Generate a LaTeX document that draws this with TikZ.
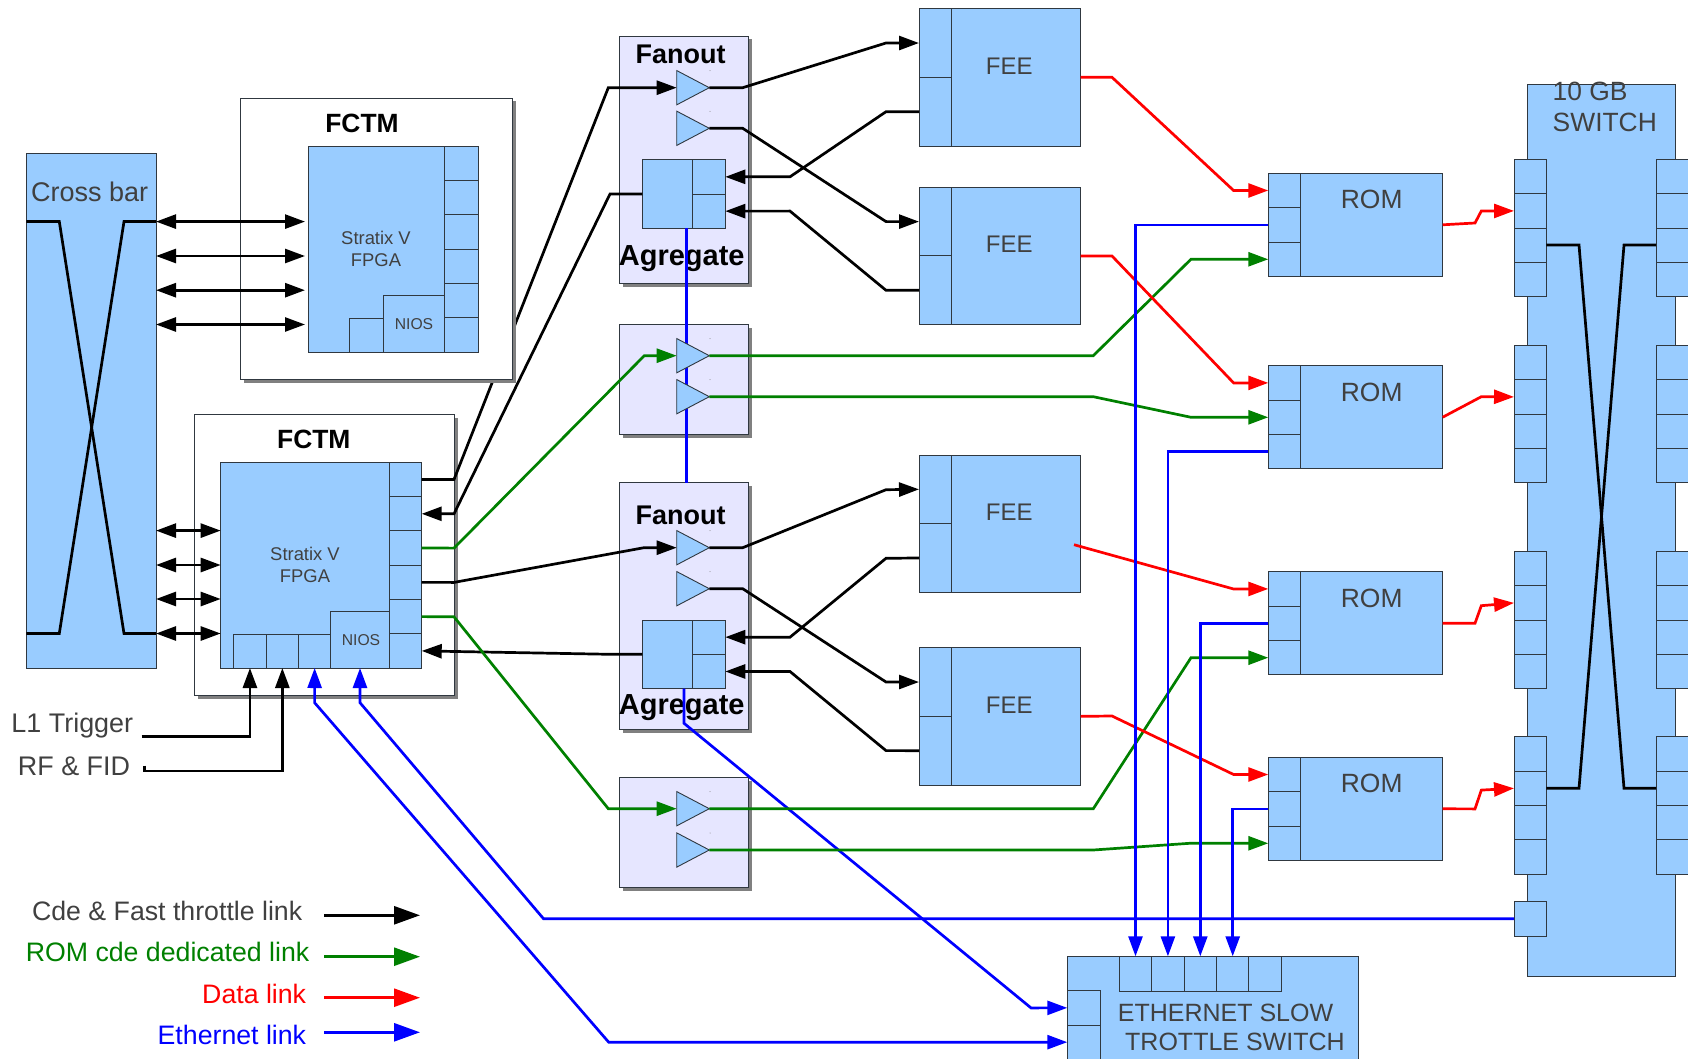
\documentclass[tikz,border=0pt]{standalone}
\usepackage{fontspec}
\setmainfont{Liberation Sans}
\usetikzlibrary{arrows.meta,shapes.geometric,shadows}

\definecolor{boxblue}{HTML}{99CCFF}
\definecolor{boxedge}{HTML}{303840}
\definecolor{lavender}{HTML}{E6E6FF}
\definecolor{darktext}{HTML}{404040}
\definecolor{linkgreen}{HTML}{008000}

\begin{document}
\begin{tikzpicture}[x=1pt, y=-1pt, >={Triangle[length=20pt,width=14pt]},
  bluebox/.style={draw=boxedge, fill=boxblue, line width=0.9pt, inner sep=0pt, outer sep=0pt, anchor=north west},
  framebox/.style={draw=boxedge, fill=white, line width=0.9pt, inner sep=0pt, outer sep=0pt, anchor=north west,
    drop shadow={shadow xshift=3.5pt, shadow yshift=-3.5pt, fill=gray, opacity=1}},
  fanbox/.style={framebox, fill=lavender},
  buffer/.style={draw=boxedge, fill=boxblue, line width=0.9pt, isosceles triangle, isosceles triangle stretches,
    minimum width=34.3pt, minimum height=32.6pt, inner sep=0pt, outer sep=0pt, anchor=apex},
  boxtext/.style={text=darktext, inner sep=0pt, font=\fontsize{24}{28}\selectfont},
  romtext/.style={boxtext, font=\fontsize{26.4}{31}\selectfont},
  smalltext/.style={boxtext, font=\fontsize{18.4}{22}\selectfont, align=center},
  niostext/.style={boxtext, font=\fontsize{15.7}{18}\selectfont},
  titletext/.style={text=black, inner sep=0pt, font=\fontsize{27}{32}\selectfont\bfseries},
  sidetext/.style={boxtext, font=\fontsize{26.7}{32}\selectfont},
  blackline/.style={black, line width=2.7pt},
  greenline/.style={linkgreen, line width=2.7pt},
  redline/.style={red, line width=2.7pt},
  blueline/.style={blue, line width=2.7pt},
  legendtip/.style={-{Triangle[length=26pt,width=18pt]}},
]
  \useasboundingbox (0,0) rectangle (1688,1059);

  % cross bar
  \node[bluebox, minimum width=130pt, minimum height=515pt] (crossbar) at (26.3,153) {};
  \node[boxtext, font=\fontsize{27}{32}\selectfont] (crossbartext) at (89.6,192) {Cross bar};
  \draw[blackline] (26.3,221.6) -- (59.3,221.6) -- (124,633.5) -- (156,633.5);
  \draw[blackline] (156,221.6) -- (124,221.6) -- (59.3,633.5) -- (26.3,633.5);

  % lower FCTM
  \node[framebox, minimum width=259.2pt, minimum height=281.5pt] (frameB) at (194.8,414) {};
  \node[titletext, font=\fontsize{26.4}{32}\selectfont\bfseries] (frameBtext) at (313.8,439) {FCTM};
  \node[bluebox, minimum width=168.6pt, minimum height=205.6pt] (fpgaB) at (220.7,462.4) {};
  \node[smalltext] (fpgaBtext) at (305,565) {Stratix V\\FPGA};
  \foreach \i in {1,...,6} {
    \pgfmathsetmacro{\py}{462.4+(\i-1)*34.27}
    \node[bluebox, minimum width=32.4pt, minimum height=34.27pt] (fpgaBp\i) at (389.3,\py) {};
  }
  \foreach \i/\x in {1/233.8, 2/266.2, 3/298.5} {
    \node[bluebox, minimum width=32.3pt, minimum height=34pt] (fpgaBb\i) at (\x,634) {};
  }
  \node[bluebox, minimum width=58.6pt, minimum height=57pt] (niosB) at (330.7,611) {};
  \node[niostext] (niosBtext) at (361,640) {NIOS};

  % fanout and aggregate boxes
  \node[fanbox, minimum width=129.4pt, minimum height=247.3pt] (fanA) at (619,36) {};
  \node[fanbox, minimum width=129.4pt, minimum height=110pt] (fanB) at (619,324.3) {};
  \node[fanbox, minimum width=129.4pt, minimum height=246.6pt] (fanC) at (619,482.7) {};
  \node[fanbox, minimum width=129.4pt, minimum height=110pt] (fanD) at (619,777.7) {};
  \node[titletext] (fanAtext) at (680.7,54.3) {Fanout};
  \node[titletext] (fanCtext) at (680.7,515) {Fanout};
  \node[titletext, font=\fontsize{29}{32}\selectfont\bfseries] (sumAtext) at (681.7,259) {Agregate};
  \node[titletext, font=\fontsize{29}{32}\selectfont\bfseries] (sumCtext) at (681.7,707.3) {Agregate};

  \foreach \n/\y in {A/159.7, C/620} {
    \node[bluebox, minimum width=50pt, minimum height=68.6pt] (agg\n) at (642.3,\y) {};
    \pgfmathsetmacro{\py}{\y+34.3}
    \node[bluebox, minimum width=33pt, minimum height=34.3pt] (agg\n p1) at (692.3,\y) {};
    \node[bluebox, minimum width=33pt, minimum height=34.3pt] (agg\n p2) at (692.3,\py) {};
  }

  % ethernet bus goes under the buffers
  \coordinate (busA) at (686.3,228.3);
  \coordinate (busB) at (686.3,482.7);
  \draw[blueline] (busA) -- (busB);

  \foreach \n/\y in {A/87.7, B/128.3, C/355.7, D/396.7, E/547.7, F/588.7, G/808.7, H/850} {
    \node[buffer] (tri\n) at (709.3,\y) {};
    \fill[gray] (710,\y-17) circle (0.5pt);
  }

  % this link passes behind the upper FCTM
  \draw[blackline,->] (fpgaBp1.east) -- (454,479.5) -- (608.3,87.7) -- (triA.lower side);

  % upper FCTM
  \node[framebox, minimum width=272.4pt, minimum height=281.6pt] (frameA) at (240,98) {};
  \node[titletext, font=\fontsize{26.4}{32}\selectfont\bfseries] (frameAtext) at (362,123) {FCTM};
  \node[bluebox, minimum width=136pt, minimum height=206pt] (fpgaA) at (308,146) {};
  \node[smalltext] (fpgaAtext) at (376,249) {Stratix V\\FPGA};
  \foreach \i in {1,...,6} {
    \pgfmathsetmacro{\py}{146+(\i-1)*34.33}
    \node[bluebox, minimum width=34pt, minimum height=34.33pt] (fpgaAp\i) at (444,\py) {};
  }
  \node[bluebox, minimum width=61pt, minimum height=56.5pt] (niosA) at (383,295.5) {};
  \node[bluebox, minimum width=34pt, minimum height=34pt] (fpgaAb) at (349,318) {};
  \node[niostext] (niosAtext) at (414,323.7) {NIOS};

  % FEE boards
  \foreach \f/\y/\ty in {1/8.7/66, 2/187.3/244, 3/455/512, 4/647.7/705} {
    \node[bluebox, minimum width=161.7pt, minimum height=137.3pt] (fee\f) at (919,\y) {};
    \pgfmathsetmacro{\py}{\y+68.65}
    \node[bluebox, minimum width=32.3pt, minimum height=68.65pt] (fee\f p1) at (919,\y) {};
    \node[bluebox, minimum width=32.3pt, minimum height=68.65pt] (fee\f p2) at (919,\py) {};
    \node[boxtext] (fee\f text) at (1009.3,\ty) {FEE};
  }

  % ROM boards
  \foreach \r/\y in {1/173.3, 2/365.7, 3/571.7, 4/757.3} {
    \node[bluebox, minimum width=174.4pt, minimum height=103pt] (rom\r) at (1268.3,\y) {};
    \foreach \p in {1,2,3} {
      \pgfmathsetmacro{\py}{\y+(\p-1)*34.4}
      \node[bluebox, minimum width=32.4pt, minimum height=34.4pt] (rom\r p\p) at (1268.3,\py) {};
    }
    \pgfmathsetmacro{\ty}{\y+26.5}
    \node[romtext] (rom\r text) at (1371.7,\ty) {ROM};
  }

  % 10 GB switch
  \node[bluebox, minimum width=148.7pt, minimum height=892.7pt] (switch) at (1527,84) {};
  \node[romtext, align=left, anchor=north west, font=\fontsize{26.4}{31.7}\selectfont] (switchtext) at (1552.5,81.5) {10 GB\\SWITCH};
  \foreach \g/\y in {1/159.3, 2/345.3, 3/551.3, 4/736.7} {
    \foreach \p in {1,2,3,4} {
      \pgfmathsetmacro{\py}{\y+(\p-1)*34.4}
      \node[bluebox, minimum width=32.3pt, minimum height=34.4pt] (swl\g p\p) at (1514,\py) {};
      \node[bluebox, minimum width=33pt, minimum height=34.4pt] (swr\g p\p) at (1656,\py) {};
    }
  }
  \node[bluebox, minimum width=32.3pt, minimum height=34.7pt] (swx) at (1514,901.3) {};
  \draw[blackline] (1546.3,245) -- (1579,245) -- (1624,788.3) -- (1656,788.3);
  \draw[blackline] (1656,245) -- (1624,245) -- (1579,788.3) -- (1546.3,788.3);

  % ethernet switch
  \node[bluebox, minimum width=291.3pt, minimum height=110pt] (eth) at (1067.3,956.3) {};
  \foreach \i in {1,...,5} {
    \pgfmathsetmacro{\px}{1119.3+(\i-1)*32.4}
    \node[bluebox, minimum width=32.4pt, minimum height=34.7pt] (etht\i) at (\px,956.3) {};
  }
  \node[bluebox, minimum width=33pt, minimum height=34.3pt] (ethl1) at (1067.3,990.7) {};
  \node[bluebox, minimum width=33pt, minimum height=34.3pt] (ethl2) at (1067.3,1025) {};
  \node[boxtext, font=\fontsize{25}{30}\selectfont, anchor=west] (ethtextA) at (1117.7,1013) {ETHERNET SLOW};
  \node[boxtext, font=\fontsize{25}{30}\selectfont, anchor=west] (ethtextB) at (1125,1042.3) {TROTTLE SWITCH};

  % cross bar to FCTM links
  \foreach \i/\y in {1/221.6, 2/256, 3/290.2, 4/324.5} {
    \coordinate (xbarA\i) at (156,\y);
    \coordinate (fpgaAin\i) at (305,\y);
    \draw[blackline,<->] (xbarA\i) -- (fpgaAin\i);
  }
  \foreach \i/\y in {1/530.6, 2/565, 3/599, 4/633.5} {
    \coordinate (xbarB\i) at (156,\y);
    \coordinate (fpgaBin\i) at (220.7,\y);
    \draw[blackline,<->] (xbarB\i) -- (fpgaBin\i);
  }

  % black links
  \draw[blackline,->] (aggA.west) -- (610,194) -- (454,513.8) -- (fpgaBp2.east);
  \draw[blackline,->] (aggC.west) -- (610,654.3) -- (fpgaBp6.east);
  \draw[blackline,->] (fpgaBp4.east) -- (454,582.4) -- (644,547.7) -- (triE.lower side);
  \draw[blackline,->] (triA.apex) -- (742.7,87.7) -- (886,43) -- (fee1p1.west);
  \draw[blackline,->] (triB.apex) -- (742.7,128.3) -- (886,221.6) -- (fee2p1.west);
  \draw[blackline,->] (fee1p2.west) -- (886,111.7) -- (790,176.8) -- (aggAp1.east);
  \draw[blackline,->] (fee2p2.west) -- (886,290.3) -- (790,211.1) -- (aggAp2.east);
  \draw[blackline,->] (triE.apex) -- (742.7,547.7) -- (886,489.7) -- (fee3p1.west);
  \draw[blackline,->] (triF.apex) -- (742.7,588.7) -- (886,682) -- (fee4p1.west);
  \draw[blackline,->] (fee3p2.west) -- (886,558.3) -- (790,637.2) -- (aggCp1.east);
  \draw[blackline,->] (fee4p2.west) -- (886,750.6) -- (790,671.5) -- (aggCp2.east);

  % trigger and clock inputs
  \node[sidetext, font=\fontsize{26.9}{32}\selectfont] (trigtext) at (72.3,726) {L1 Trigger};
  \node[sidetext, font=\fontsize{26.9}{32}\selectfont] (rftext) at (74,766.7) {RF \& FID};
  \coordinate (trigout) at (141.5,736.7);
  \coordinate (rfout) at (144.3,765.7);
  \draw[blackline,->] (trigout) -| (fpgaBb1.south);
  \draw[blackline,->] (rfout) -- ++(0,5.3) -| (fpgaBb2.south);

  % ethernet links
  \coordinate (aggCout) at (684,688.7);
  \draw[blueline,->] (aggCout) -- (684,723.3) -- (1031,1007.9) -- (ethl1.west);
  \draw[blueline,<->] (ethl2.west) -- (608.7,1042.2) -- (314.6,702.7) -- (fpgaBb3.south);
  \draw[blueline,->] (swx.west) -- (543.5,918.7) -- (360,702.7) -- (niosB.south);

  % ROM command links
  \draw[greenline,->] (fpgaBp3.east) -- (454,548.1) -- (644.3,355.7) -- (triC.lower side);
  \draw[greenline,->] (fpgaBp5.east) -- (454,616.8) -- (608.3,808.7) -- (triG.lower side);
  \draw[greenline,->] (triC.apex) -- (1093.3,355.7) -- (1191,259.2) -- (rom1p3.west);
  \draw[greenline,->] (triD.apex) -- (1093.3,396.7) -- (1191,417.3) -- (rom2p2.west);
  \draw[greenline,->] (triG.apex) -- (1093.3,808.7) -- (1191,657.7) -- (rom3p3.west);
  \draw[greenline,->] (triH.apex) -- (1093.3,850) -- (1191,843.2) -- (rom4p3.west);

  % data links
  \coordinate (fee3out) at (1074,544.7);
  \draw[redline,->] (fee1.east) -- (1112,77.3) -- (1233.6,190.5) -- (rom1p1.west);
  \draw[redline,->] (fee2.east) -- (1112,256) -- (1233.6,382.9) -- (rom2p1.west);
  \draw[redline,->] (fee3out) -- (1233.6,589) -- (rom3p1.west);
  \draw[redline,->] (fee4.east) -- (1112,716) -- (1233.6,774.5) -- (rom4p1.west);
  \foreach \r/\y/\a in {1/223/211, 3/623.3/605.7, 4/808.9/790.1} {
    \draw[redline,->] (rom\r.east) -- (1475,\y) -- (1481.3,\a) -- (swl\r p2.west);
  }
  \draw[redline,->] (rom2.east) -- (1481.3,396.7) -- (swl2p2.west);

  % ROM ethernet links
  \draw[blueline,->] (rom1p2.west) -| (etht1.north);
  \draw[blueline,->] (rom2p3.west) -| (etht2.north);
  \draw[blueline,->] (rom3p2.west) -| (etht3.north);
  \draw[blueline,->] (rom4p2.west) -| (etht4.north);

  % legend
  \foreach \n/\c/\y/\r/\t/\ty in {a/darktext/915.3/302.4/{Cde \& Fast throttle link}/911,
      b/linkgreen/956.7/309.5/{ROM cde dedicated link}/951.7,
      c/red/997.7/306.3/{Data link}/994,
      d/blue/1032.3/306.3/{Ethernet link}/1035} {
    \node[sidetext, text=\c, anchor=east] (legend\n) at (\r,\ty) {\t};
    \coordinate (legend\n from) at (324,\y);
    \coordinate (legend\n to) at (420,\y);
  }
  \draw[blackline,legendtip] (legendafrom) -- (legendato);
  \draw[greenline,legendtip] (legendbfrom) -- (legendbto);
  \draw[redline,legendtip] (legendcfrom) -- (legendcto);
  \draw[blueline,legendtip] (legenddfrom) -- (legenddto);

\end{tikzpicture}
\end{document}
